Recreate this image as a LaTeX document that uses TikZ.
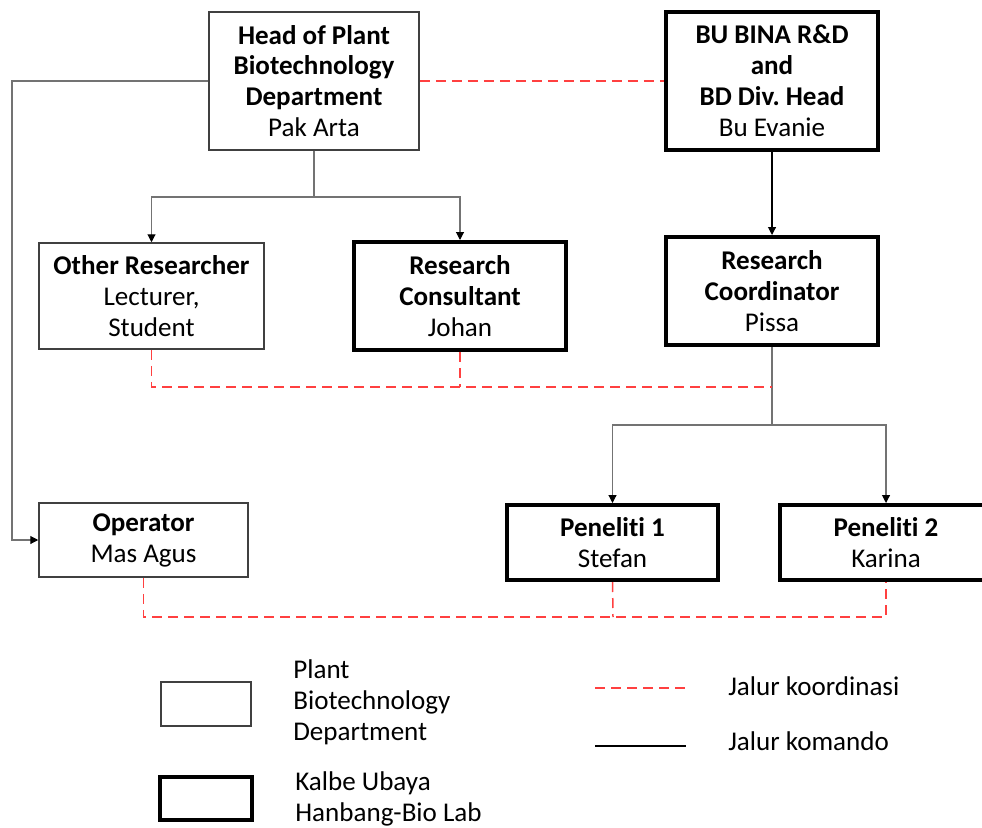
\documentclass[tikz,border=0pt]{standalone}
\usepackage{fontspec}
\setmainfont{Carlito}[Ligatures={NoCommon}]
\usetikzlibrary{arrows.meta}
\newlength{\du}
\setlength{\du}{0.02cm}
\definecolor{dialinecolor}{rgb}{0.000000, 0.000000, 0.000000}
\definecolor{boxcolor}{rgb}{0.250000, 0.250000, 0.250000}
\definecolor{cmdcolor}{rgb}{0.450000, 0.450000, 0.450000}
\definecolor{coordcolor}{rgb}{1.000000, 0.250000, 0.250000}
\tikzset{
  orgtext/.style={font=\fontsize{15.4}{17.6}\selectfont, align=center, inner sep=0pt},
  thinbox/.style={orgtext, draw=boxcolor, line width=1.5\du},
  thickbox/.style={orgtext, draw=dialinecolor, line width=4\du},
  cmdline/.style={draw=cmdcolor, line width=1.1\du,
    -{Stealth[length=4.5pt, width=4.5pt, inset=0pt, color=dialinecolor]}},
  coordline/.style={draw=coordcolor, line width=1.5\du, dash pattern=on 10\du off 6\du},
  legendtext/.style={orgtext, align=left, anchor=west}
}
\begin{document}
\begin{tikzpicture}
\pgftransformxscale{1.000000}
\pgftransformyscale{-1.000000}
\useasboundingbox (0\du,0\du) rectangle (982\du,827\du);
% boxes
\node[thinbox, minimum width=210\du, minimum height=138\du] (head) at (314\du,81\du)
  {\textbf{Head of Plant}\\\textbf{Biotechnology}\\\textbf{Department}\\Pak Arta};
\node[thickbox, minimum width=212\du, minimum height=138\du] (bubina) at (772\du,81\du)
  {\textbf{BU BINA R\&D}\\\textbf{and}\\\textbf{BD Div.\ Head}\\Bu Evanie};
\node[thinbox, minimum width=225\du, minimum height=106\du] (other) at (151.5\du,296\du)
  {\textbf{Other Researcher}\\Lecturer,\\Student};
\node[thickbox, minimum width=212\du, minimum height=108\du] (consultant) at (460\du,296\du)
  {\textbf{Research}\\\textbf{Consultant}\\Johan};
\node[thickbox, minimum width=212\du, minimum height=108\du] (coordinator) at (772\du,291\du)
  {\textbf{Research}\\\textbf{Coordinator}\\Pissa};
\node[thinbox, minimum width=209\du, minimum height=74\du] (operator) at (143.5\du,540\du)
  {\textbf{Operator}\\Mas Agus};
\node[thickbox, minimum width=211\du, minimum height=75\du] (peneliti1) at (612.5\du,542.5\du)
  {\textbf{Peneliti 1}\\Stefan};
\node[thickbox, minimum width=212\du, minimum height=75\du] (peneliti2) at (886\du,542.5\du)
  {\textbf{Peneliti 2}\\Karina};
% jalur komando
\coordinate (headfork) at (314\du,197\du);
\coordinate (leftbus) at (12\du,540\du);
\coordinate (coordfork) at (772\du,425\du);
\draw[cmdline] (head.south) -- (headfork) -| (other.north);
\draw[cmdline] (head.south) -- (headfork) -| (consultant.north);
\draw[cmdline] (head.west) -| (leftbus) -- (operator.west);
\draw[cmdline, draw=dialinecolor] (bubina.south) -- (coordinator.north);
\draw[cmdline] (coordinator.south) -- (coordfork) -| (peneliti1.north);
\draw[cmdline] (coordfork) -| (peneliti2.north);
% jalur koordinasi
\coordinate (midbus) at (772\du,387\du);
\coordinate (lowbus) at (613\du,617\du);
\draw[coordline] (head.east) -- (bubina.west);
\draw[coordline] (other.south) |- (midbus);
\draw[coordline] (consultant.south) -- (consultant.south |- midbus);
\draw[coordline] (operator.south) |- (lowbus) -| (peneliti2.south);
\draw[coordline] (peneliti1.south) -- (lowbus);
% legend
\node[thinbox, minimum width=90\du, minimum height=44\du] (legthin) at (206\du,704\du) {};
\node[thickbox, minimum width=92\du, minimum height=43\du] (legthick) at (206\du,798\du) {};
\node[legendtext] (legthintext) at (293\du,702\du) {Plant\\Biotechnology\\Department};
\node[legendtext] (legthicktext) at (295\du,799\du) {Kalbe Ubaya\\Hanbang-Bio Lab};
\coordinate (legcoordA) at (595\du,688\du);
\coordinate (legcoordB) at (686\du,688\du);
\coordinate (legcmdA) at (595\du,746\du);
\coordinate (legcmdB) at (686\du,746\du);
\draw[coordline] (legcoordA) -- (legcoordB);
\draw[draw=dialinecolor, line width=1.1\du] (legcmdA) -- (legcmdB);
\node[legendtext] (legcoordtext) at (728\du,686\du) {Jalur koordinasi};
\node[legendtext] (legcmdtext) at (728\du,741\du) {Jalur komando};
\end{tikzpicture}
\end{document}
